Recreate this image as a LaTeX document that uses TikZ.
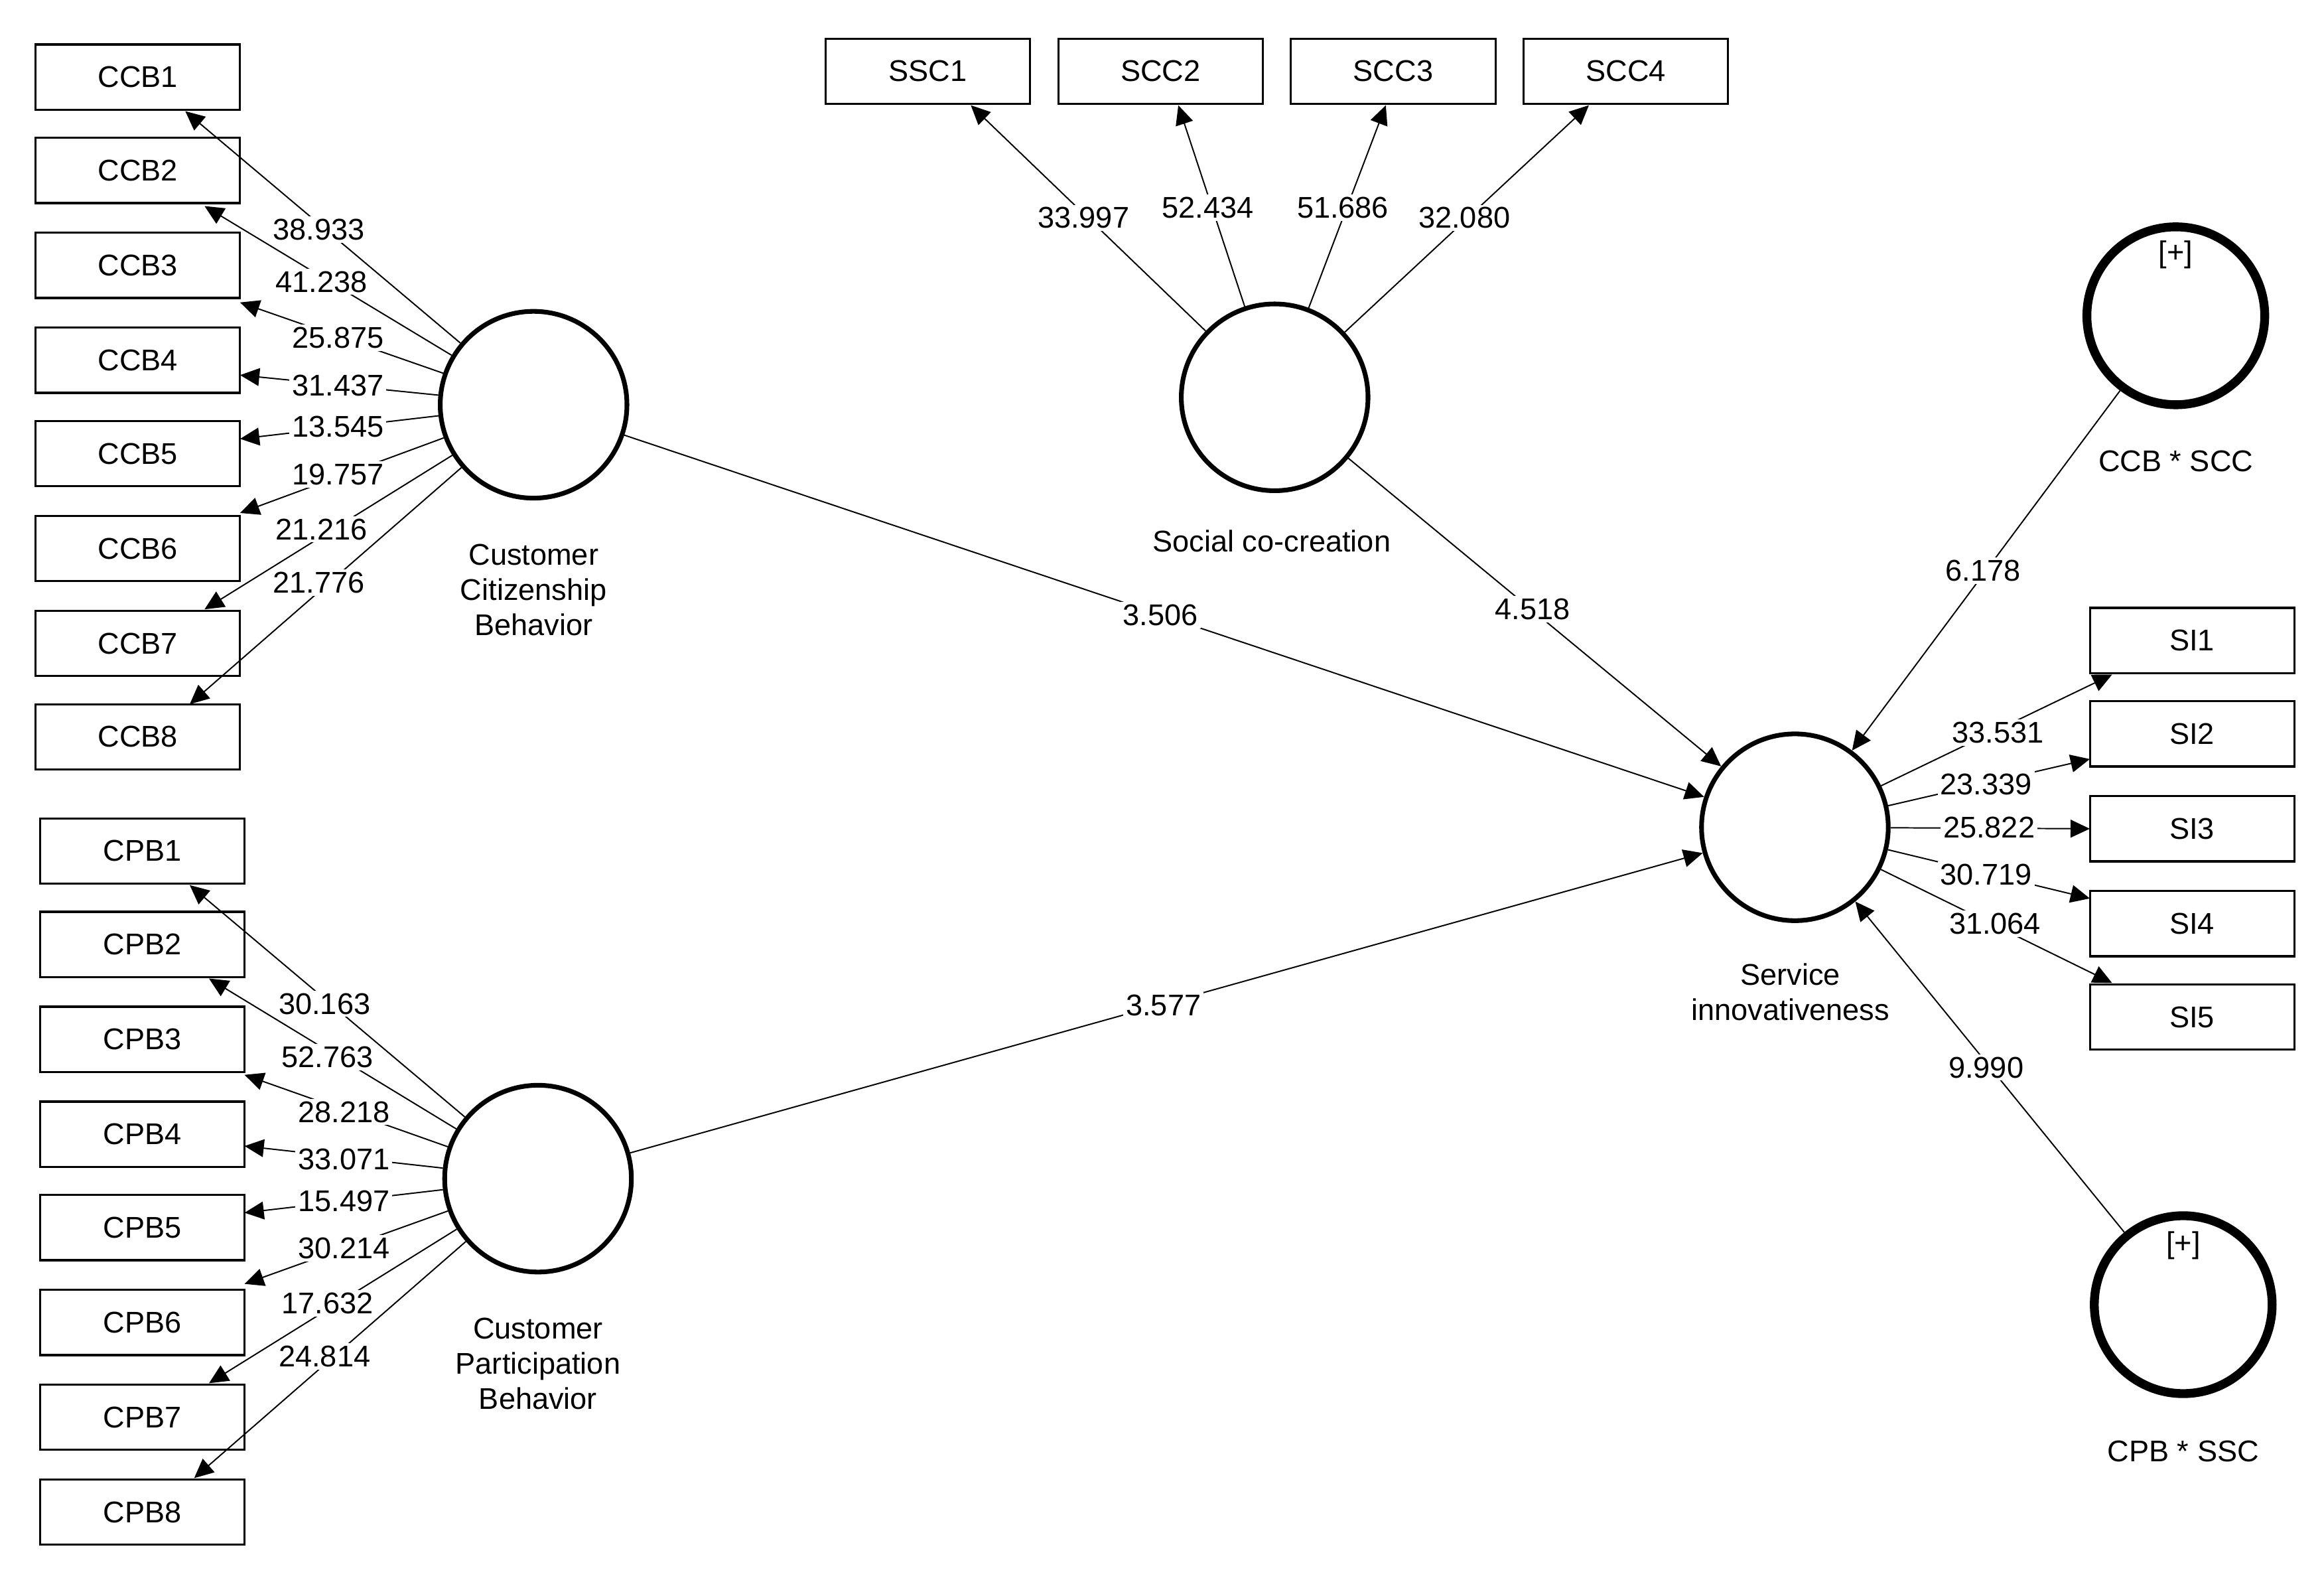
\documentclass[tikz,border=0pt]{standalone}
\usepackage{fontspec}
\setmainfont{Liberation Sans}
\usetikzlibrary{arrows.meta}
\begin{document}
\begin{tikzpicture}[x=0.02cm,y=-0.02cm,font=\fontsize{11.5}{13.5}\selectfont,
  box/.style={draw,line width=0.8pt,minimum width=2.76cm,minimum height=0.88cm,inner sep=0},
  lv/.style={draw,circle,line width=1.8pt,minimum size=2.52cm,inner sep=0},
  iv/.style={draw,circle,line width=3.4pt,minimum size=2.4cm,inner sep=0},
  ar/.style={line width=0.5pt,-{Triangle[length=2.6mm,width=2.4mm]}},
  lb/.style={fill=white,inner sep=1pt},
  lvcap/.style={align=center}]
\useasboundingbox (0,0) rectangle (1568,1076.5);
% latent variables
\node[lv] (ccb) at (360,273) {};
\node[lv] (cpb) at (363,795) {};
\node[lv] (scc) at (860,268) {};
\node[lv] (si) at (1211,558) {};
\node[iv] (i1) at (1468,213) {};
\node[iv] (i2) at (1473,880) {};
\node at (1468,172) {[+]};
\node at (1473,840) {[+]};
\node[lvcap] at (360,398) {Customer\\Citizenship\\Behavior};
\node[lvcap] at (363,920) {Customer\\Participation\\Behavior};
\node[lvcap] at (858,365) {Social co-creation};
\node[lvcap] at (1208,669) {Service\\innovativeness};
\node at (1468,311) {CCB * SCC};
\node at (1473,979) {CPB * SSC};
% boxes
\foreach \n/\y in {1/52,2/115,3/179,4/243,5/306,6/370,7/434,8/497}
  \node[box] (CCB\n) at (93,\y) {CCB\n};
\foreach \n/\y in {1/574,2/637,3/701,4/765,5/828,6/892,7/956,8/1020}
  \node[box] (CPB\n) at (96,\y) {CPB\n};
\node[box] (S1) at (626,48) {SSC1};
\node[box] (S2) at (783,48) {SCC2};
\node[box] (S3) at (940,48) {SCC3};
\node[box] (S4) at (1097,48) {SCC4};
\foreach \n/\y in {1/432,2/495,3/559,4/623,5/686}
  \node[box] (SI\n) at (1479,\y) {SI\n};
% outer loadings CCB
\coordinate (c1) at (125,75); \coordinate (c2) at (138,139); \coordinate (c3) at (162,204);
\coordinate (c4) at (162,253); \coordinate (c5) at (162,296); \coordinate (c6) at (162,346);
\coordinate (c7) at (138,411); \coordinate (c8) at (128,475);
\foreach \i in {1,...,8} \draw[ar] (ccb) -- (c\i);
\coordinate (p1) at (128,597); \coordinate (p2) at (141,660); \coordinate (p3) at (165,725);
\coordinate (p4) at (165,773); \coordinate (p5) at (165,818); \coordinate (p6) at (165,866);
\coordinate (p7) at (141,933); \coordinate (p8) at (131,997);
\foreach \i in {1,...,8} \draw[ar] (cpb) -- (p\i);
\coordinate (s1) at (655,71); \coordinate (s2) at (795,71); \coordinate (s3) at (935,71); \coordinate (s4) at (1072,71);
\foreach \i in {1,...,4} \draw[ar] (scc) -- (s\i);
\coordinate (t1) at (1425,455); \coordinate (t2) at (1410,512); \coordinate (t3) at (1410,559);
\coordinate (t4) at (1410,606); \coordinate (t5) at (1425,663);
\foreach \i in {1,...,5} \draw[ar] (si) -- (t\i);
% structural
\draw[ar] (ccb) -- (si);
\draw[ar] (cpb) -- (si);
\draw[ar] (scc) -- (si);
\draw[ar] (i1) -- (si);
\draw[ar] (i2) -- (si);
% labels
\foreach \t/\x/\y in {38.933/215/155,41.238/217/190,25.875/228/228,31.437/228/260,13.545/228/288,19.757/228/320,21.216/217/357,21.776/215/393,
 30.163/219/677,52.763/221/713,28.218/232/750,33.071/232/782,15.497/232/810,30.214/232/842,17.632/221/879,24.814/219/915,
 33.997/731/147,52.434/815/140,51.686/906/140,32.080/988/147,
 33.531/1348/494,23.339/1340/529,25.822/1342/558,30.719/1340/590,31.064/1346/623,
 3.506/783/415,3.577/785/678,4.518/1034/411,6.178/1338/385,9.990/1340/720}
  \node[lb] at (\x,\y) {\t};
\end{tikzpicture}
\end{document}
